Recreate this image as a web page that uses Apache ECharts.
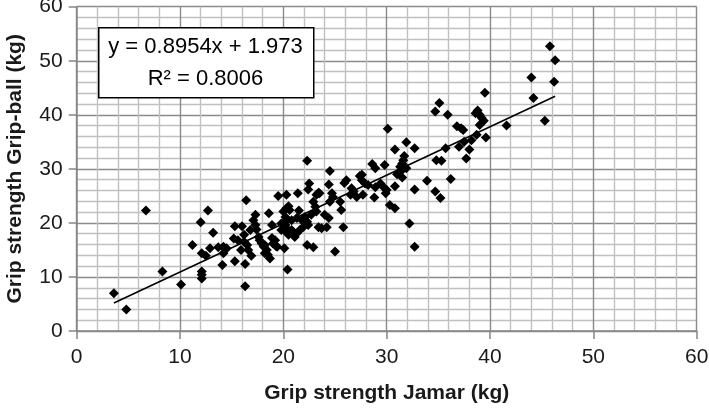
<!DOCTYPE html>
<html>
<head>
<meta charset="utf-8">
<script src="https://cdn.jsdelivr.net/npm/echarts@6/dist/echarts.min.js"></script>
<style>
  html, body { margin: 0; padding: 0; background: #fff; }
  #chart { width: 709px; height: 408px; }
</style>
</head>
<body>
<div id="chart"></div>
<script>
// 握力数据：Jamar (x) 对 Grip-ball (y)
const jamarX = [
  3.6, 4.8, 6.7, 8.3, 10.1, 11.2, 12.0, 12.1, 12.1, 12.1, 12.1, 12.5, 12.7, 12.9, 13.2,
  13.7, 14.2, 14.4, 14.1, 14.2, 14.5, 15.3, 15.2, 15.3, 16.0, 16.4, 16.3, 16.3, 16.9, 16.2,
  16.2, 16.5, 16.6, 17.3, 17.1, 17.3, 17.4, 16.8, 17.6, 17.7, 17.9, 18.2, 18.4, 18.5, 18.7,
  18.6, 18.9, 19.2, 19.3, 20.1, 19.5, 20.3, 20.0, 20.3, 20.5, 20.2, 19.8, 20.1, 20.4, 20.4,
  21.4, 22.3, 24.5, 22.5, 22.4, 23.4, 23.2, 24.4, 24.7, 24.8, 24.5, 26.1, 25.9, 26.6, 26.8,
  26.5, 27.1, 27.6, 25.5, 25.6, 20.6, 21.5, 20.3, 20.8, 21.3, 21.8, 22.9, 23.1, 23.2, 22.7,
  22.1, 22.3, 22.4, 21.9, 21.6, 21.3, 21.1, 20.8, 20.2, 20.5, 23.4, 23.7, 24.2, 24.0, 24.4,
  25.8, 22.3, 22.9, 25.0, 35.1, 34.7, 30.1, 31.9, 30.8, 32.7, 31.7, 31.6, 31.5, 31.3, 28.6,
  28.9, 29.8, 34.8, 35.3, 35.7, 31.9, 31.5, 31.0, 31.5, 30.8, 27.4, 27.6, 27.9, 28.2, 29.4,
  28.9, 29.7, 30.0, 29.9, 27.7, 28.8, 30.3, 30.8, 33.9, 32.7, 34.7, 35.2, 32.2, 32.7, 45.8,
  46.3, 46.2, 44.0, 44.2, 45.3, 39.5, 35.9, 38.6, 38.8, 39.0, 39.2, 39.4, 39.0, 36.8, 37.2,
  37.4, 41.6, 38.7, 39.6, 37.5, 38.2, 37.0, 38.0, 37.7, 36.2, 23.5, 18.1, 18.2, 18.9, 19.0,
  19.4, 19.8, 20.2, 15.6, 15.9
]
const gripBallY = [
  7.0, 4.0, 22.3, 11.0, 8.6, 15.9, 20.1, 11.0, 10.4, 9.7, 14.4, 13.9, 22.3, 15.3, 18.2,
  15.5, 15.6, 15.1, 12.2, 14.4, 15.3, 12.9, 17.1, 19.4, 19.4, 24.2, 12.4, 8.3, 13.9, 17.8,
  16.5, 15.9, 15.0, 21.5, 20.5, 19.6, 18.8, 18.7, 17.4, 16.8, 16.2, 15.9, 15.0, 14.1, 13.4,
  21.8, 19.6, 16.8, 15.7, 15.3, 25.0, 25.2, 22.1, 22.7, 23.1, 21.1, 19.9, 18.7, 18.1, 11.4,
  25.5, 31.5, 29.6, 27.3, 26.2, 25.6, 25.2, 27.1, 25.5, 24.8, 23.9, 27.9, 27.4, 26.4, 25.8,
  25.2, 24.8, 28.9, 23.9, 22.4, 22.4, 22.3, 20.5, 20.5, 20.9, 20.5, 23.9, 23.0, 22.1, 21.5,
  21.1, 20.2, 19.6, 19.2, 18.7, 18.1, 17.4, 18.7, 19.2, 17.8, 19.2, 19.0, 19.2, 21.5, 20.9,
  19.2, 15.9, 15.5, 14.7, 42.2, 40.6, 37.4, 34.9, 33.6, 33.8, 32.4, 31.6, 31.0, 30.4, 30.9,
  30.1, 30.7, 31.6, 31.5, 33.8, 30.1, 29.8, 29.0, 28.4, 26.8, 28.7, 27.9, 27.3, 27.0, 27.3,
  26.6, 26.6, 26.1, 25.5, 25.2, 24.7, 23.3, 22.7, 27.8, 26.2, 25.8, 24.6, 19.9, 15.6, 52.7,
  50.1, 46.1, 46.9, 43.1, 38.9, 44.1, 40.0, 40.3, 40.8, 40.0, 39.4, 38.9, 38.1, 37.9, 37.5,
  37.2, 38.0, 36.3, 35.8, 35.0, 35.3, 34.1, 33.6, 31.9, 28.1, 25.5, 15.6, 14.4, 17.2, 16.2,
  15.6, 18.7, 19.6, 16.8, 15.0
]
// 线性趋势线
const slope = 0.8954
const intercept = 1.973
const r2 = 0.8006
const xTicks = [0, 10, 20, 30, 40, 50, 60]
const yTicks = [0, 10, 20, 30, 40, 50, 60]

let points = []
for (let i = 0; i < jamarX.length; i++) {
  points.push([jamarX[i], gripBallY[i]])
}
let xMin = Math.min.apply(null, jamarX)
let xMax = Math.max.apply(null, jamarX)
let trend = [[xMin, slope * xMin + intercept], [xMax, slope * xMax + intercept]]

let chartDom = document.getElementById('chart')
let myChart = echarts.init(chartDom)
let font = '"Liberation Sans", Arial, sans-serif'

let option = {
  animation: false,
  textStyle: { fontFamily: font },
  grid: { left: 76.7, right: 12.3, top: 6.7, bottom: 77, containLabel: false, outerBoundsMode: 'none' },
  xAxis: {
    type: 'value',
    min: xTicks[0],
    max: xTicks[xTicks.length - 1],
    interval: 10,
    name: 'Grip strength Jamar (kg)',
    nameLocation: 'middle',
    nameGap: 52,
    nameTextStyle: { fontSize: 21, fontWeight: 'bold', color: '#1a1a1a', fontFamily: font },
    axisLine: { show: true, lineStyle: { color: '#868686', width: 1.5 } },
    axisTick: { show: true, inside: false, length: 8, lineStyle: { color: '#868686', width: 1.5 } },
    axisLabel: { fontSize: 21, color: '#1a1a1a', margin: 16, fontFamily: font },
    splitLine: { show: true, lineStyle: { color: '#8a8a8a', width: 1.4 } },
    minorTick: { show: false, splitNumber: 5 },
    minorSplitLine: { show: true, lineStyle: { color: '#c0c0c0', width: 1.4 } }
  },
  yAxis: {
    type: 'value',
    min: yTicks[0],
    max: yTicks[yTicks.length - 1],
    interval: 10,
    name: 'Grip strength Grip-ball (kg)',
    nameLocation: 'middle',
    nameGap: 51,
    nameTextStyle: { fontSize: 21, fontWeight: 'bold', color: '#1a1a1a', fontFamily: font },
    axisLine: { show: true, lineStyle: { color: '#868686', width: 1.5 } },
    axisTick: { show: true, inside: false, length: 8, lineStyle: { color: '#868686', width: 1.5 } },
    axisLabel: { fontSize: 21, color: '#1a1a1a', margin: 14, fontFamily: font },
    splitLine: { show: true, lineStyle: { color: '#8a8a8a', width: 1.4 } },
    minorTick: { show: false, splitNumber: 5 },
    minorSplitLine: { show: true, lineStyle: { color: '#c0c0c0', width: 1.4 } }
  },
  series: [
    {
      type: 'scatter',
      data: points,
      symbol: 'diamond',
      symbolSize: 10,
      itemStyle: { color: '#000', opacity: 1 },
      z: 3
    },
    {
      type: 'line',
      data: trend,
      symbol: 'none',
      lineStyle: { color: '#000', width: 1.6 },
      z: 4
    }
  ],
  graphic: [
    {
      type: 'rect',
      left: 98,
      top: 27,
      z: 100,
      shape: { width: 215, height: 70 },
      style: { fill: '#fff', stroke: '#000', lineWidth: 1.5 }
    },
    {
      type: 'text',
      x: 205.5, y: 47,
      z: 101,
      style: { text: 'y = ' + slope + 'x + ' + intercept, fontSize: 22, fill: '#000', align: 'center', verticalAlign: 'middle', fontFamily: font }
    },
    {
      type: 'text',
      x: 205.5, y: 79,
      z: 101,
      style: { text: 'R² = ' + r2, fontSize: 22, fill: '#000', align: 'center', verticalAlign: 'middle', fontFamily: font }
    }
  ]
}

myChart.setOption(option)
</script>
</body>
</html>
